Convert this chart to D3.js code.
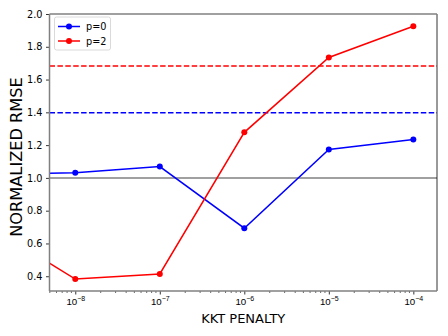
<!DOCTYPE html>
<html>
<head>
<meta charset="utf-8">
<script src="https://cdn.jsdelivr.net/npm/d3@7"></script>
<style>
  body { margin: 0; background: #fff; }
  svg { font-family: "DejaVu Sans", sans-serif; }
</style>
</head>
<body>
<div id="chart"></div>
<script>
var penalties = [1e-9, 1e-8, 1e-7, 1e-6, 1e-5, 1e-4];
var rmseP0 = [1.02, 1.032, 1.069, 0.693, 1.174, 1.235];
var rmseP2 = [0.70, 0.383, 0.414, 1.278, 1.735, 1.925];
var baselineP0 = 1.398;
var baselineP2 = 1.682;
var reference = 1.0;
var yTicks = [0.4, 0.6, 0.8, 1.0, 1.2, 1.4, 1.6, 1.8, 2.0];
var xTicks = [1e-8, 1e-7, 1e-6, 1e-5, 1e-4];

var width = 448, height = 336;
var margin = {left: 49.5, right: 11, top: 14, bottom: 45};

var svg = d3.select("#chart").append("svg")
  .attr("width", width)
  .attr("height", height);

var x = d3.scaleLog()
  .domain([Math.pow(10, -8.305), Math.pow(10, -3.72)])
  .range([margin.left, width - margin.right]);

var y = d3.scaleLinear()
  .domain([0.31, 2.0])
  .range([height - margin.bottom, margin.top]);

svg.append("clipPath").attr("id", "clip")
  .append("rect")
  .attr("x", margin.left).attr("y", margin.top)
  .attr("width", width - margin.left - margin.right)
  .attr("height", height - margin.top - margin.bottom);

var plot = svg.append("g").attr("clip-path", "url(#clip)");

// horizontal reference lines
plot.append("line")
  .attr("x1", margin.left).attr("x2", width - margin.right)
  .attr("y1", y(reference)).attr("y2", y(reference))
  .attr("stroke", "#808080").attr("stroke-width", 1.5);

plot.append("line")
  .attr("x1", margin.left).attr("x2", width - margin.right)
  .attr("y1", y(baselineP0)).attr("y2", y(baselineP0))
  .attr("stroke", "blue").attr("stroke-width", 1.5)
  .attr("stroke-dasharray", "5.5,2.4");

plot.append("line")
  .attr("x1", margin.left).attr("x2", width - margin.right)
  .attr("y1", y(baselineP2)).attr("y2", y(baselineP2))
  .attr("stroke", "red").attr("stroke-width", 1.5)
  .attr("stroke-dasharray", "5.5,2.4");

var line = d3.line()
  .x(function(d) { return x(d[0]); })
  .y(function(d) { return y(d[1]); });

var series = [
  {name: "p=0", color: "blue", values: rmseP0},
  {name: "p=2", color: "red", values: rmseP2}
];

series.forEach(function(s) {
  var pts = penalties.map(function(p, i) { return [p, s.values[i]]; });
  plot.append("path")
    .datum(pts)
    .attr("d", line)
    .attr("fill", "none")
    .attr("stroke", s.color)
    .attr("stroke-width", 1.5);
  plot.selectAll(null)
    .data(pts)
    .enter().append("circle")
    .attr("cx", function(d) { return x(d[0]); })
    .attr("cy", function(d) { return y(d[1]); })
    .attr("r", 3)
    .attr("fill", s.color);
});

// y axis
var yAxis = svg.append("g")
  .attr("transform", "translate(" + margin.left + ",0)")
  .call(d3.axisLeft(y).tickValues(yTicks).tickFormat(d3.format(".1f")).tickSize(3.5).tickPadding(3.5));
yAxis.select(".domain").remove();
yAxis.selectAll("text").attr("font-size", 9.7).attr("fill", "#000").attr("font-family", "DejaVu Sans");
yAxis.selectAll("line").attr("stroke", "#000").attr("stroke-width", 0.8);

// x axis major
var xAxis = svg.append("g")
  .attr("transform", "translate(0," + (height - margin.bottom) + ")")
  .call(d3.axisBottom(x).tickValues(xTicks).tickFormat("").tickSize(3.5));
xAxis.select(".domain").remove();
xAxis.selectAll("line").attr("stroke", "#000").attr("stroke-width", 0.8);

xAxis.selectAll(".tick").append("text")
  .attr("y", 14)
  .attr("text-anchor", "middle")
  .attr("font-size", 9.7)
  .attr("fill", "#000")
  .each(function(d) {
    var t = d3.select(this);
    t.append("tspan").text("10");
    t.append("tspan").attr("dy", -4).attr("font-size", 7).text("\u2212" + Math.round(-Math.log10(d)));
  });

// x minor ticks
var minor = [];
for (var e = -9; e <= -4; e++) {
  for (var m = 2; m <= 9; m++) {
    var v = m * Math.pow(10, e);
    if (v >= x.domain()[0] && v <= x.domain()[1]) minor.push(v);
  }
}
svg.append("g").selectAll("line")
  .data(minor)
  .enter().append("line")
  .attr("x1", function(d) { return x(d); })
  .attr("x2", function(d) { return x(d); })
  .attr("y1", height - margin.bottom)
  .attr("y2", height - margin.bottom + 2)
  .attr("stroke", "#000")
  .attr("stroke-width", 0.6);

// spines
var L = margin.left, R = width - margin.right, T = margin.top, B = height - margin.bottom;
svg.append("line").attr("x1", R).attr("x2", R).attr("y1", T).attr("y2", B)
  .attr("stroke", "#000").attr("stroke-width", 0.8);
svg.append("line").attr("x1", L).attr("x2", R).attr("y1", T).attr("y2", T)
  .attr("stroke", "#808080").attr("stroke-width", 1.5);
svg.append("line").attr("x1", L).attr("x2", R).attr("y1", B).attr("y2", B)
  .attr("stroke", "#808080").attr("stroke-width", 1.5);
svg.append("line").attr("x1", L).attr("x2", L).attr("y1", T).attr("y2", B)
  .attr("stroke", "#808080").attr("stroke-width", 1.5);

// axis labels
svg.append("text")
  .attr("x", (L + R) / 2)
  .attr("y", 323)
  .attr("text-anchor", "middle")
  .attr("font-size", 13)
  .text("KKT PENALTY");

svg.append("text")
  .attr("transform", "translate(22,157) rotate(-90)")
  .attr("text-anchor", "middle")
  .attr("font-size", 16.2)
  .text("NORMALIZED RMSE");

// legend
var legend = svg.append("g").attr("transform", "translate(" + (L + 5) + "," + (T + 3) + ")");
legend.append("rect")
  .attr("width", 56).attr("height", 33)
  .attr("rx", 2)
  .attr("fill", "#fff").attr("fill-opacity", 0.8)
  .attr("stroke", "#d0d0d0").attr("stroke-width", 0.8);
series.forEach(function(s, i) {
  var g = legend.append("g").attr("transform", "translate(0," + (9.5 + i * 14.5) + ")");
  g.append("line").attr("x1", 3.5).attr("x2", 25.5)
    .attr("stroke", s.color).attr("stroke-width", 1.5);
  g.append("circle").attr("cx", 14.5).attr("r", 3).attr("fill", s.color);
  g.append("text").attr("x", 31.5).attr("y", 3.5).attr("font-size", 9.7).text(s.name);
});
</script>
</body>
</html>
